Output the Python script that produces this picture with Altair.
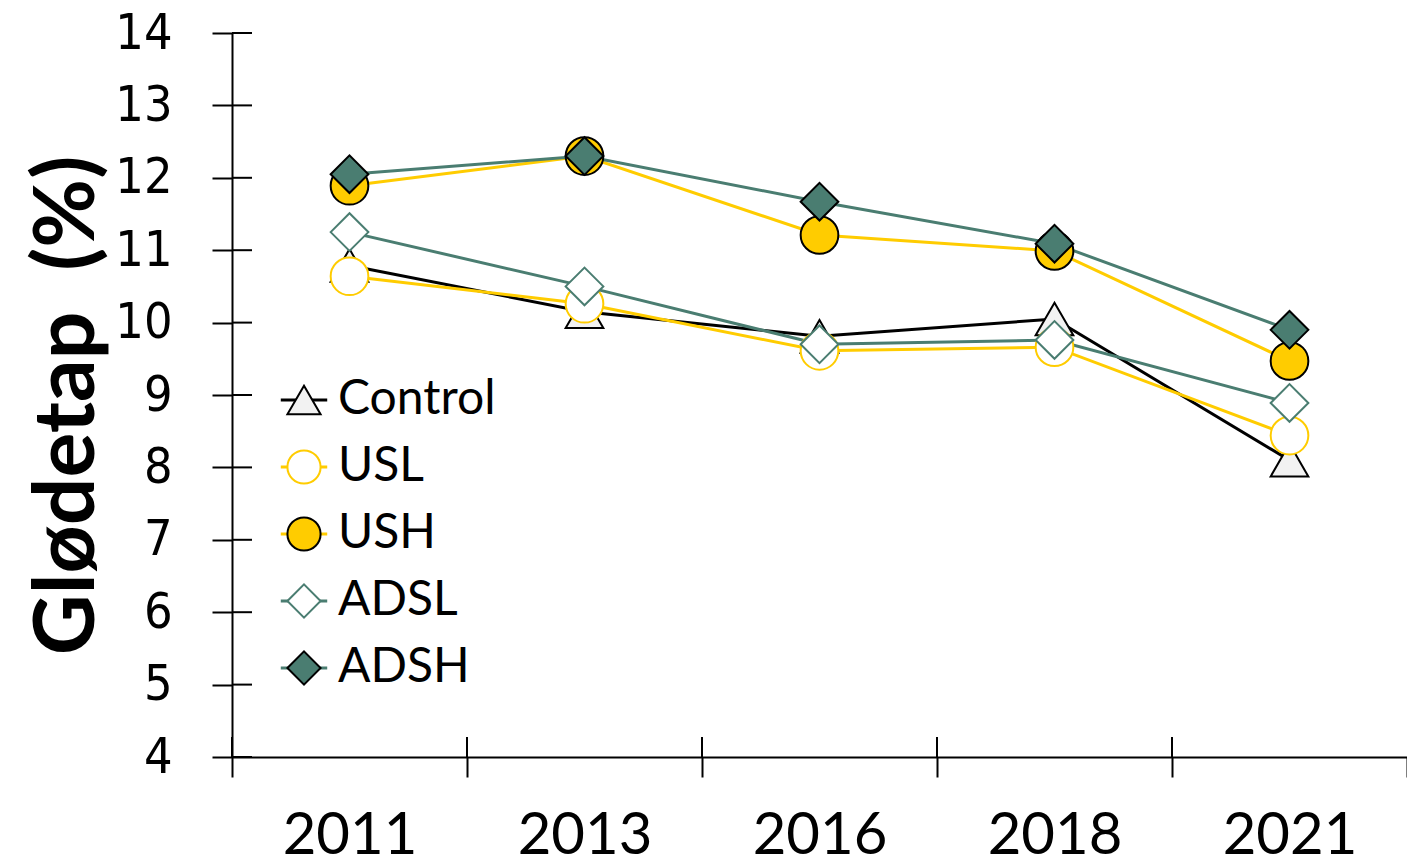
import altair as alt
import pandas as pd

years = ["2011", "2013", "2016", "2018", "2021"]
series = ["Control", "USL", "USH", "ADSL", "ADSH"]
control = [10.79, 10.15, 9.81, 10.05, 8.10]
usl = [10.64, 10.26, 9.61, 9.66, 8.44]
ush = [11.89, 12.30, 11.21, 10.99, 9.47]
adsl = [11.25, 10.50, 9.70, 9.76, 8.89]
adsh = [12.05, 12.30, 11.67, 11.09, 9.90]
y_ticks = [4, 5, 6, 7, 8, 9, 10, 11, 12, 13, 14]

line_colors = ["#000000", "#FFCC00", "#FFCC00", "#4A7D71", "#4A7D71"]
fill_colors = ["#F2F2F2", "#FFFFFF", "#FFCC00", "#FFFFFF", "#4A7D71"]
stroke_colors = ["#000000", "#FFCC00", "#000000", "#4A7D71", "#000000"]
shapes = ["triangle-up", "circle", "circle", "diamond", "diamond"]
line_keys = [s + " line" for s in series]

rows = []
for name, key, vals in zip(series, line_keys, [control, usl, ush, adsl, adsh]):
    for yr, v in zip(years, vals):
        rows.append({"year": yr, "series": name, "s_line": key, "value": v})
df = pd.DataFrame(rows)
ticks_df = pd.DataFrame({"value": y_ticks})
years_df = pd.DataFrame({"year": years})

W, H = 1175, 724
TICK = 20

x_scale = alt.Scale(type="band", domain=years, paddingInner=0, paddingOuter=0)
x_axis = alt.Axis(title=None, tickBand="extent", tickSize=TICK, tickWidth=2, tickColor="#000",
                  domainColor="#000", domainWidth=2, labelAngle=0, labelFont="Lato",
                  labelFontSize=58, labelColor="#000", labelPadding=30, grid=False)
y_scale = alt.Scale(domain=[4, 14], nice=False, zero=False)
y_axis = alt.Axis(values=y_ticks, tickSize=TICK, tickWidth=2, tickColor="#000",
                  domainColor="#000", domainWidth=2,
                  labelFont="DejaVu Sans Condensed, DejaVu Sans",
                  labelFontSize=50, labelColor="#000", labelPadding=40, grid=False,
                  title="Glødetap\u00a0 (%)", titleFont="Lato", titleFontSize=84,
                  titleFontWeight="bold", titleColor="#000", titlePadding=3, titleY=372)


def xenc(bp):
    return alt.X("year:N", sort=years, scale=x_scale, axis=x_axis, bandPosition=bp)


yenc = alt.Y("value:Q", scale=y_scale, axis=y_axis)

LX, LY = 48, 343
common_legend = dict(orient="none", legendX=LX, legendY=LY, title=None, labelFont="Lato",
                     labelFontSize=48, labelLimit=600, symbolSize=1100, rowPadding=19,
                     labelOffset=10)

xticks_in = alt.Chart(years_df).mark_rule(color="#000", strokeWidth=2).encode(
    x=xenc(0), y=alt.value(H - TICK), y2=alt.value(H))
yticks_in = alt.Chart(ticks_df).mark_rule(color="#000", strokeWidth=2).encode(
    y=yenc, x=alt.value(0), x2=alt.value(TICK))

lines = alt.Chart(df).mark_line(strokeWidth=3).encode(
    x=xenc(0.5), y=yenc,
    color=alt.Color("s_line:N", scale=alt.Scale(domain=line_keys, range=line_colors),
                    legend=alt.Legend(symbolType="M-1.4,0H1.4", symbolStrokeWidth=3,
                                      labelColor="transparent", labelExpr="''",
                                      **common_legend)),
    detail="series:N")

pt_legend = alt.Legend(symbolStrokeWidth=2, labelColor="#000", **common_legend)
points = alt.Chart(df).mark_point(filled=True, size=1420, strokeWidth=2, opacity=1).encode(
    x=xenc(0.5), y=yenc,
    shape=alt.Shape("series:N", scale=alt.Scale(domain=series, range=shapes), legend=pt_legend),
    fill=alt.Fill("series:N", scale=alt.Scale(domain=series, range=fill_colors), legend=pt_legend),
    stroke=alt.Stroke("series:N", scale=alt.Scale(domain=series, range=stroke_colors), legend=pt_legend),
    order=alt.Order("ord:Q"),
).transform_calculate(ord="indexof(['Control','USL','USH','ADSL','ADSH'], datum.series)")

chart = alt.layer(xticks_in, yticks_in, lines, points).properties(
    width=W, height=H,
    autosize=alt.AutoSizeParams(type="none"),
    padding={"left": 224, "top": 25, "right": 0, "bottom": 110},
).configure(background="white").configure_view(stroke=None)

chart.save("out.html", embed_options={"renderer": "svg", "actions": False})
